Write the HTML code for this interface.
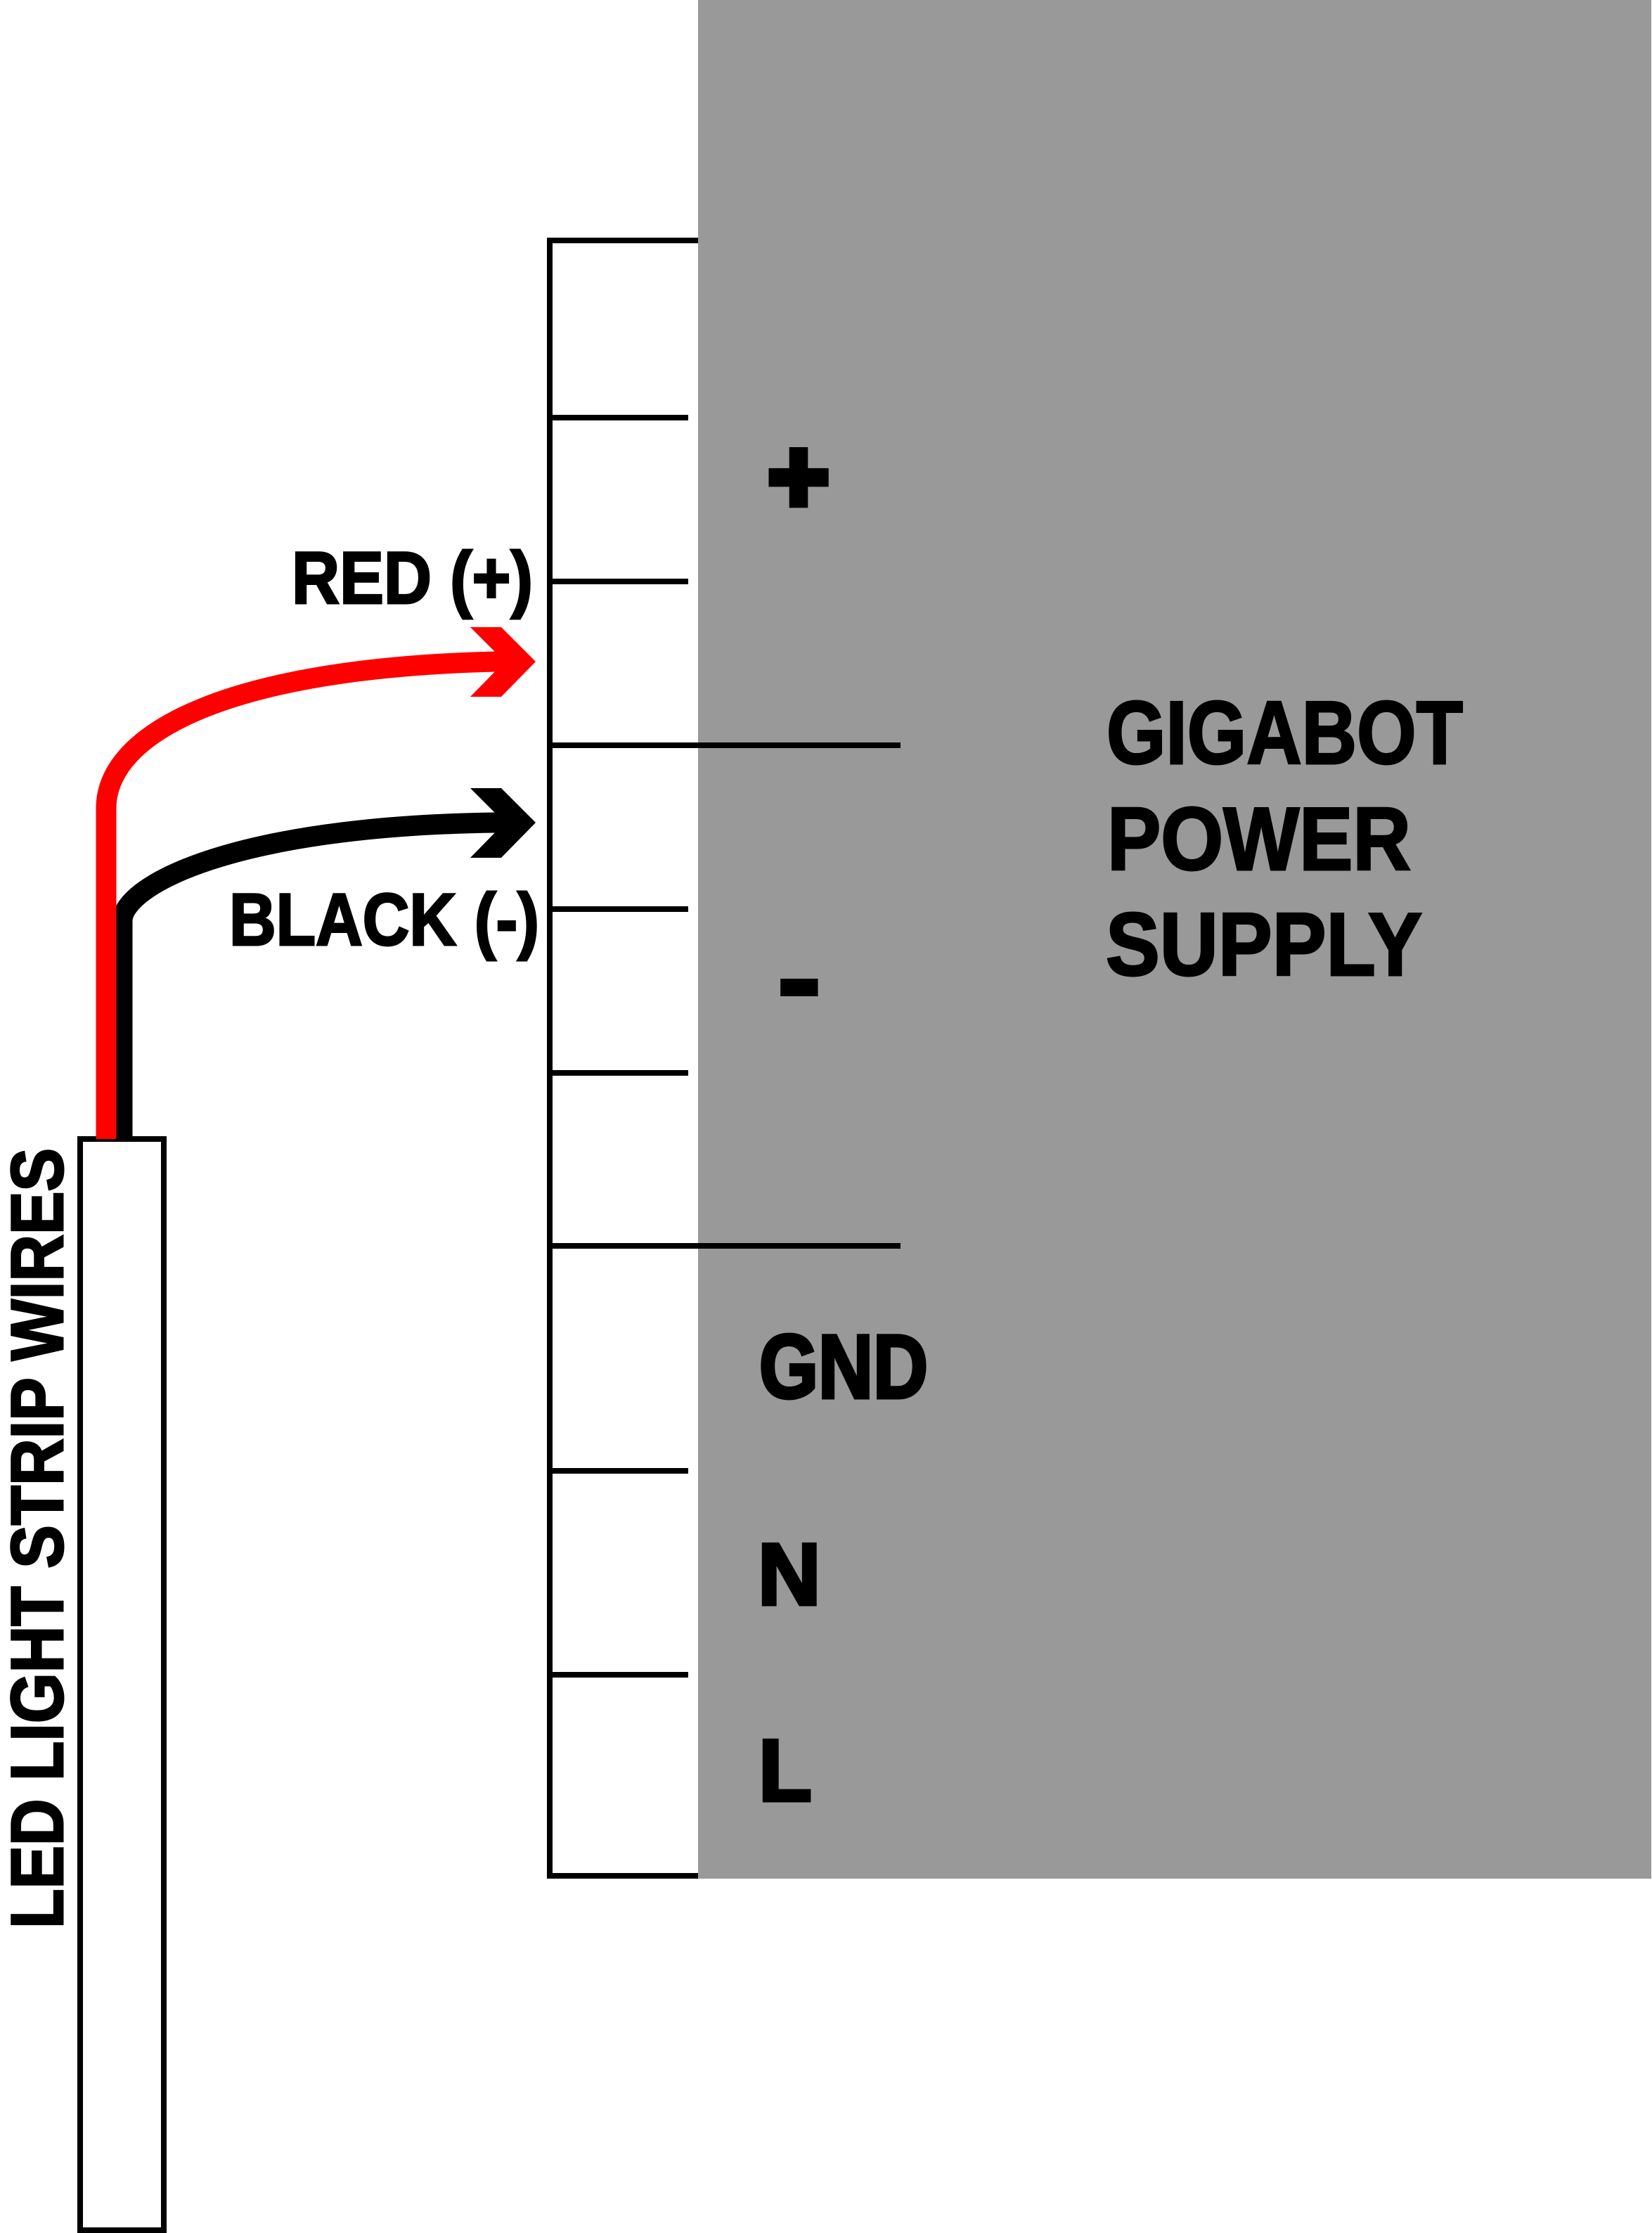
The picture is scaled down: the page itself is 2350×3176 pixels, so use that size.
<!DOCTYPE html>
<html>
<head>
<meta charset="utf-8">
<style>
  html, body { margin: 0; padding: 0; background: #ffffff; }
  body { width: 2350px; height: 3176px; overflow: hidden; }
  svg { display: block; }
  text { font-family: "Liberation Sans", "DejaVu Sans", sans-serif; font-weight: bold; fill: #000; }
  .heavy { stroke: #000; stroke-width: 3; }
</style>
</head>
<body>
<svg width="2350" height="3176" viewBox="0 0 2350 3176" xmlns="http://www.w3.org/2000/svg">
  <!-- background -->
  <rect x="0" y="0" width="2350" height="3176" fill="#ffffff"/>

  <!-- power supply body -->
  <rect x="993" y="0" width="1356" height="2672" fill="#999999"/>

  <!-- terminal block -->
  <rect x="786" y="346" width="207" height="2318" fill="#ffffff"/>
  <line x1="778" y1="342" x2="993" y2="342" stroke="#000" stroke-width="8"/>
  <line x1="782" y1="338" x2="782" y2="2672" stroke="#000" stroke-width="8"/>
  <line x1="778" y1="2668" x2="993" y2="2668" stroke="#000" stroke-width="8"/>

  <!-- short ticks -->
  <g stroke="#000" stroke-width="8">
    <line x1="782" y1="594" x2="979" y2="594"/>
    <line x1="782" y1="827" x2="979" y2="827"/>
    <line x1="782" y1="1293" x2="979" y2="1293"/>
    <line x1="782" y1="1526" x2="979" y2="1526"/>
    <line x1="782" y1="2092" x2="979" y2="2092"/>
    <line x1="782" y1="2382" x2="979" y2="2382"/>
    <!-- long separators -->
    <line x1="782" y1="1060" x2="1281" y2="1060"/>
    <line x1="782" y1="1772" x2="1281" y2="1772"/>
  </g>

  <!-- terminal labels -->
  <text x="1136" y="729" font-size="150" text-anchor="middle" stroke="#000" stroke-width="10">+</text>
  <text x="1102" y="1459" font-size="210">-</text>
  <text x="1080" y="1988" font-size="128" textLength="240" lengthAdjust="spacingAndGlyphs" stroke="#000" stroke-width="5">GND</text>
  <text x="1078" y="2282" font-size="124" stroke="#000" stroke-width="5">N</text>
  <text x="1079" y="2561" font-size="124" stroke="#000" stroke-width="5">L</text>

  <!-- power supply title -->
  <text class="heavy" x="1574" y="1086" font-size="127" textLength="507" lengthAdjust="spacingAndGlyphs">GIGABOT</text>
  <text class="heavy" x="1575" y="1237" font-size="127" textLength="432" lengthAdjust="spacingAndGlyphs">POWER</text>
  <text class="heavy" x="1573" y="1387" font-size="127" textLength="450" lengthAdjust="spacingAndGlyphs">SUPPLY</text>

  <!-- LED strip box -->
  <rect x="114" y="1620" width="119" height="1552" fill="#ffffff" stroke="#000" stroke-width="8"/>

  <!-- black wire -->
  <path d="M174,1620 L174,1310 C174,1260 330,1175 705,1170 L725,1170" fill="none" stroke="#000" stroke-width="29"/>
  <polygon points="669,1121 713,1121 762,1170 713,1220 669,1220 718,1170" fill="#000"/>

  <!-- red wire -->
  <path d="M151,1620 L151,1150 C151,1040 330,950 705,941 L725,941" fill="none" stroke="#ff0000" stroke-width="29"/>
  <polygon points="669,892 713,892 762,941 713,991 669,991 718,941" fill="#ff0000"/>

  <!-- wire labels -->
  <text class="heavy" x="415" y="858" font-size="105" textLength="343" lengthAdjust="spacingAndGlyphs">RED (+)</text>
  <text class="heavy" x="326" y="1344" font-size="105" textLength="441" lengthAdjust="spacingAndGlyphs">BLACK (-)</text>

  <!-- vertical label -->
  <g transform="translate(89,2736) rotate(-90)">
    <text class="heavy" x="-7" y="0" font-size="105" textLength="1110" lengthAdjust="spacingAndGlyphs">LED LIGHT STRIP WIRES</text>
  </g>
</svg>
</body>
</html>
